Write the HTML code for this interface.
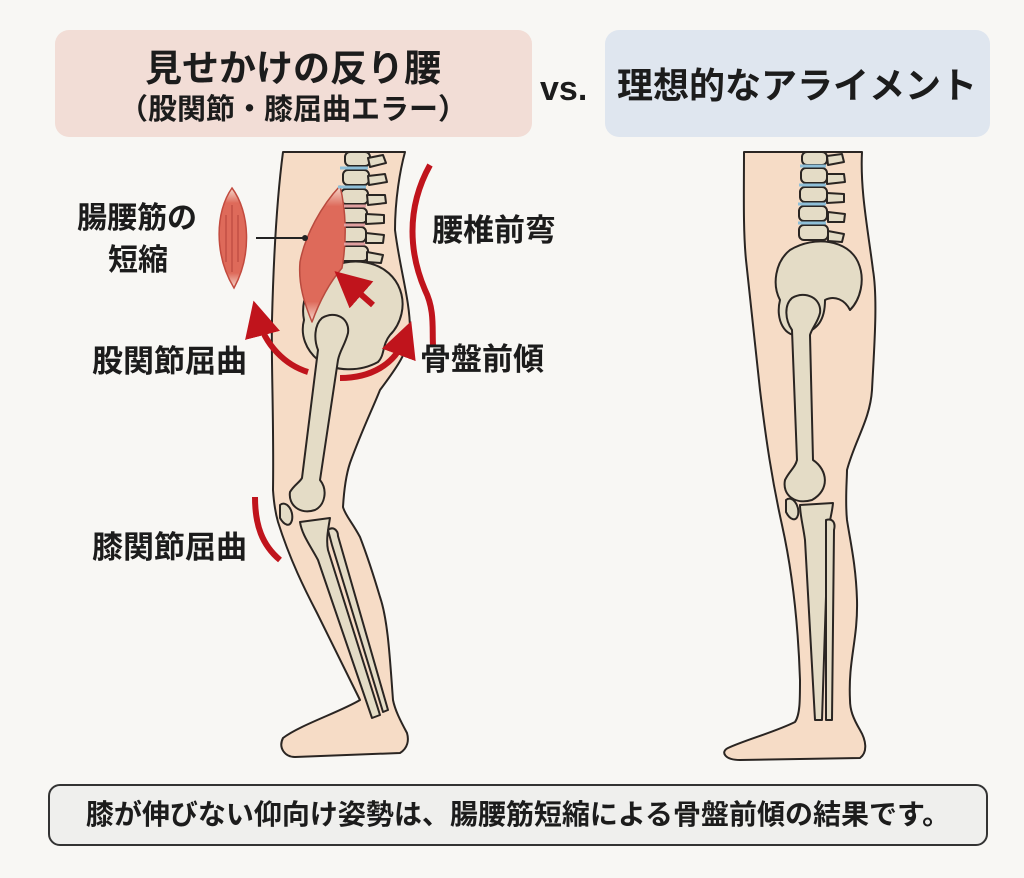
<!DOCTYPE html>
<html><head><meta charset="utf-8"><style>
html,body{margin:0;padding:0;background:#f8f7f4;}
body{width:1024px;height:878px;position:relative;overflow:hidden;font-family:"Liberation Sans","Noto Sans CJK JP",sans-serif;font-weight:bold;color:#1c1c1c;}
.box{position:absolute;border-radius:14px;}
.t{position:absolute;white-space:nowrap;line-height:1;}
</style></head><body>
<div class="box" style="left:55px;top:30px;width:477px;height:107px;background:#f2ddd6"></div>
<div class="box" style="left:605px;top:30px;width:385px;height:107px;background:#dfe6ef"></div>
<div class="t" style="left:0;width:586px;text-align:center;top:50px;font-size:37px">見せかけの反り腰</div>
<div class="t" style="left:0;width:586px;text-align:center;top:96px;font-size:29px">（股関節・膝屈曲エラー）</div>
<div class="t" style="left:540px;top:72px;font-size:34px">vs.</div>
<div class="t" style="left:612px;width:370px;text-align:center;top:68px;font-size:36px">理想的なアライメント</div>

<svg width="1024" height="878" style="position:absolute;left:0;top:0">
<defs>
<linearGradient id="mg" x1="0" y1="0" x2="0" y2="1"><stop offset="0" stop-color="#f6dcd0"/><stop offset="0.15" stop-color="#de6a5a"/><stop offset="0.85" stop-color="#de6a5a"/><stop offset="1" stop-color="#f6dcd0"/></linearGradient>
<marker id="ah" markerWidth="6" markerHeight="6" refX="3" refY="3" orient="auto" markerUnits="strokeWidth"><path d="M0,0 L6,3 L0,6 z" fill="#c0141c"/></marker>
</defs>
<g stroke="#2a2522" stroke-width="2" stroke-linejoin="round">
<path fill="#f6dcc6" d="M283,152 C278,190 274,240 272,320 C271,360 274,420 273,490 C274,505 276,515 278,522 C290,560 305,590 317,613 C335,650 350,680 360,700 C340,712 300,725 283,738 C278,748 285,757 295,757 L400,753 C408,748 409,740 407,733 C400,720 395,710 393,700 C390,660 388,620 380,597 C372,570 365,550 360,537 C352,522 345,515 343,507 C344,490 346,475 350,463 C362,430 372,410 380,390 C395,370 410,350 410,330 C410,300 400,270 395,230 C395,200 400,170 405,152 Z"/>
<g fill="#e4dcc6">
<rect x="345" y="152" width="25" height="14" rx="5"/><rect x="343" y="170" width="26" height="15" rx="5"/><rect x="341" y="189" width="27" height="15" rx="5"/><rect x="339" y="208" width="28" height="15" rx="5"/><rect x="337" y="227" width="29" height="15" rx="5"/><rect x="338" y="246" width="30" height="15" rx="5"/>
<path d="M368,158 l15,-3 l3,8 l-16,4z M368,176 l17,-2 l2,8 l-18,3z M367,195 l18,0 l1,8 l-18,2z M366,214 l18,1 l0,8 l-18,1z M366,233 l18,2 l-1,8 l-17,0z M367,252 l16,3 l-2,8 l-14,-1z"/>
</g>
<path fill="#e4dcc6" d="M325,270 C350,255 385,260 398,285 C408,305 400,325 390,335 C382,345 385,355 378,362 C360,372 335,372 318,360 C306,350 300,335 304,320 C300,300 310,280 325,270 Z"/>
<path fill="#e4dcc6" d="M322,318 C335,310 350,318 348,333 C345,345 340,350 338,360 L320,480 C328,490 325,505 315,510 C300,515 288,505 290,492 C294,485 300,482 302,478 L318,350 C314,340 314,325 322,318 Z"/>
<path fill="#e4dcc6" d="M280,505 C286,500 294,510 292,520 C290,528 284,525 280,518 Z"/>
<path fill="#e4dcc6" d="M300,522 L330,518 C328,530 326,540 328,550 L380,715 L372,718 L318,560 C310,545 302,535 300,522 Z"/>
<path fill="#e4dcc6" d="M328,530 C333,526 338,530 338,536 L388,710 L383,712 L332,545 Z"/>
<path fill="url(#mg)" stroke="#b94a3e" stroke-width="1.5" d="M340,186 C322,205 305,235 300,262 C298,285 305,305 312,322 C320,300 330,282 342,268 C347,240 346,210 340,186 Z"/>
<path fill="#f6dcc6" d="M744,152 C744,190 743,230 746,260 C750,300 756,350 760,390 C766,440 772,480 782,525 C792,570 798,620 800,680 C800,700 800,715 795,722 C775,732 745,740 728,748 C720,752 725,760 740,760 L860,758 C868,752 866,740 860,730 C853,718 850,710 850,700 C848,660 858,640 857,600 C856,565 850,540 847,520 C845,500 847,480 847,470 C855,440 870,420 872,390 C874,350 878,300 873,270 C868,230 860,190 862,152 Z"/>
<g fill="#e4dcc6">
<rect x="802" y="152" width="25" height="13" rx="5"/><rect x="801" y="168" width="26" height="15" rx="5"/><rect x="800" y="187" width="27" height="15" rx="5"/><rect x="799" y="206" width="28" height="15" rx="5"/><rect x="799" y="225" width="29" height="15" rx="5"/>
<path d="M827,156 l15,-2 l2,8 l-16,3z M827,174 l17,0 l1,8 l-18,2z M827,193 l17,1 l0,8 l-17,1z M828,212 l17,2 l-1,8 l-16,0z M828,231 l16,3 l-2,8 l-14,-1z"/>
</g>
<path fill="#e4dcc6" d="M790,250 C815,235 848,240 858,262 C866,280 860,300 850,310 C845,300 835,295 825,300 C825,320 818,330 800,335 C785,338 775,320 780,300 C772,285 775,262 790,250 Z"/>
<path fill="#e4dcc6" d="M792,298 C805,290 822,298 820,313 C818,322 812,328 810,335 L813,460 C828,470 830,490 812,500 C795,505 782,495 785,480 C790,470 795,468 797,460 L792,330 C785,320 784,305 792,298 Z"/>
<path fill="#e4dcc6" d="M786,500 C792,495 800,505 798,515 C796,522 790,520 786,512 Z"/>
<path fill="#e4dcc6" d="M800,505 L833,503 C832,515 828,525 828,535 L822,720 L815,720 L805,540 C803,525 800,515 800,505 Z"/>
<path fill="#e4dcc6" d="M826,520 C832,518 836,522 834,530 L832,720 L826,720 Z"/>
</g>
<g stroke="#8fbfd8" stroke-width="3"><line x1="340" y1="168" x2="368" y2="168"/><line x1="338" y1="187" x2="366" y2="187"/><line x1="800" y1="166" x2="826" y2="166"/><line x1="799" y1="185" x2="826" y2="185"/><line x1="798" y1="204" x2="826" y2="204"/><line x1="798" y1="223" x2="826" y2="223"/></g>
<g stroke="#e0a0a0" stroke-width="3"><line x1="344" y1="206" x2="366" y2="206"/><line x1="344" y1="225" x2="365" y2="225"/><line x1="344" y1="244" x2="365" y2="244"/></g>
<path fill="url(#mg)" stroke="#c24a3e" stroke-width="1.5" d="M232,188 C250,212 252,255 234,288 C214,255 215,212 232,188 Z"/>
<g stroke="#b4413a" stroke-width="1"><line x1="226" y1="215" x2="226" y2="262"/><line x1="232" y1="205" x2="232" y2="272"/><line x1="238" y1="215" x2="238" y2="262"/></g>
<line x1="256" y1="238" x2="305" y2="238" stroke="#222" stroke-width="2"/><circle cx="305" cy="238" r="3" fill="#222"/>
<g fill="none" stroke="#c0141c" stroke-width="6" stroke-linecap="butt">
<path d="M430,165 C405,210 410,255 425,290 C435,310 432,330 433,345"/>
<path d="M308,372 C285,365 265,345 258,318" marker-end="url(#ah)"/>
<path d="M340,378 C370,378 395,365 405,338" marker-end="url(#ah)"/>
<path d="M373,305 L348,283" marker-end="url(#ah)"/>
<path d="M255,497 C255,525 262,545 280,560"/>
</g>
</svg>

<div class="t" style="left:77px;top:204px;font-size:30px">腸腰筋の</div>
<div class="t" style="left:108px;top:246px;font-size:30px">短縮</div>
<div class="t" style="left:92px;top:346px;font-size:31px">股関節屈曲</div>
<div class="t" style="left:92px;top:532px;font-size:31px">膝関節屈曲</div>
<div class="t" style="left:432px;top:215px;font-size:31px">腰椎前弯</div>
<div class="t" style="left:420px;top:344px;font-size:31px">骨盤前傾</div>

<div class="box" style="left:48px;top:784px;width:940px;height:62px;background:#efefed;border:2px solid #333;border-radius:12px;box-sizing:border-box"></div>
<div class="t" style="left:48px;width:940px;text-align:center;top:801px;font-size:28px">膝が伸びない仰向け姿勢は、腸腰筋短縮による骨盤前傾の結果です。</div>
</body></html>
